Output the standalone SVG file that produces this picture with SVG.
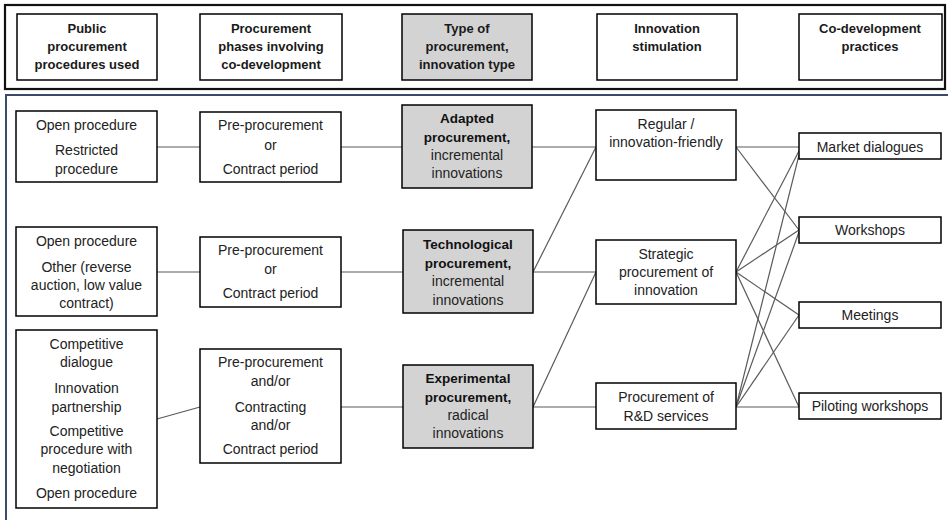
<svg xmlns="http://www.w3.org/2000/svg" width="948" height="520" viewBox="0 0 948 520">
<style>
.box{fill:#fff;stroke:#000;stroke-width:1.5}
.gbox{fill:#d3d3d3;stroke:#000;stroke-width:1.5}
.h{font-family:"Liberation Sans",Arial,sans-serif;font-size:13px;font-weight:bold;fill:#1a1a1a;text-anchor:middle}
.t{font-family:"Liberation Sans",Arial,sans-serif;font-size:14px;fill:#222;text-anchor:middle}
.b{font-family:"Liberation Sans",Arial,sans-serif;font-size:13.5px;font-weight:bold;fill:#111;text-anchor:middle}
.c line{stroke:#5a5a5a;stroke-width:1.2}
</style>
<rect x="0" y="0" width="948" height="520" fill="#fff"/>
<rect x="5" y="5" width="940" height="84" fill="#fff" stroke="#111" stroke-width="2.2"/>
<rect x="6" y="95" width="946" height="440" fill="#fff" stroke="#3b4a6b" stroke-width="2"/>

<g id="hdr1"><rect class="box" x="17" y="14" width="140" height="66"/><text class="h" x="87" y="33">Public</text><text class="h" x="87" y="51">procurement</text><text class="h" x="87" y="69">procedures used</text></g>
<g id="hdr2"><rect class="box" x="200" y="14" width="142" height="66"/><text class="h" x="271" y="33">Procurement</text><text class="h" x="271" y="51">phases involving</text><text class="h" x="271" y="69">co-development</text></g>
<g id="hdr3"><rect class="gbox" x="402" y="14" width="130" height="66"/><text class="h" x="467" y="33">Type of</text><text class="h" x="467" y="51">procurement,</text><text class="h" x="467" y="69">innovation type</text></g>
<g id="hdr4"><rect class="box" x="597" y="14" width="140" height="66"/><text class="h" x="667" y="33">Innovation</text><text class="h" x="667" y="51">stimulation</text></g>
<g id="hdr5"><rect class="box" x="799" y="14" width="143" height="66"/><text class="h" x="870" y="33">Co-development</text><text class="h" x="870" y="51">practices</text></g>

<g class="c" id="connectors">
<line x1="157" y1="147" x2="200" y2="147"/>
<line x1="341" y1="147" x2="402" y2="147"/>
<line x1="532" y1="147" x2="596" y2="147"/>
<line x1="157" y1="272" x2="200" y2="272"/>
<line x1="341" y1="272" x2="403" y2="272"/>
<line x1="533" y1="272" x2="596" y2="272"/>
<line x1="533" y1="272" x2="596" y2="147"/>
<line x1="157" y1="419" x2="200" y2="407"/>
<line x1="341" y1="407" x2="403" y2="407"/>
<line x1="533" y1="407" x2="596" y2="407"/>
<line x1="533" y1="407" x2="596" y2="272"/>
<line x1="736" y1="147" x2="799" y2="147"/>
<line x1="736" y1="147" x2="799" y2="230"/>
<line x1="736" y1="272" x2="799" y2="151"/>
<line x1="736" y1="272" x2="799" y2="230"/>
<line x1="736" y1="272" x2="799" y2="315"/>
<line x1="736" y1="272" x2="799" y2="407"/>
<line x1="736" y1="407" x2="799" y2="155"/>
<line x1="736" y1="407" x2="799" y2="232"/>
<line x1="736" y1="407" x2="799" y2="315"/>
<line x1="736" y1="407" x2="799" y2="407"/>
</g>

<g id="proc1"><rect class="box" x="16" y="111" width="141" height="71"/><text class="t" x="86.5" y="130">Open procedure</text><text class="t" x="86.5" y="155">Restricted</text><text class="t" x="86.5" y="174">procedure</text></g>
<g id="proc2"><rect class="box" x="16" y="227" width="141" height="89"/><text class="t" x="86.5" y="246">Open procedure</text><text class="t" x="86.5" y="272">Other (reverse</text><text class="t" x="86.5" y="290">auction, low value</text><text class="t" x="86.5" y="308">contract)</text></g>
<g id="proc3"><rect class="box" x="16" y="330" width="141" height="178"/><text class="t" x="86.5" y="349">Competitive</text><text class="t" x="86.5" y="367">dialogue</text><text class="t" x="86.5" y="393">Innovation</text><text class="t" x="86.5" y="412">partnership</text><text class="t" x="86.5" y="436">Competitive</text><text class="t" x="86.5" y="454">procedure with</text><text class="t" x="86.5" y="473">negotiation</text><text class="t" x="86.5" y="498">Open procedure</text></g>

<g id="phase1"><rect class="box" x="200" y="112" width="141" height="70"/><text class="t" x="270.5" y="130">Pre-procurement</text><text class="t" x="270.5" y="150">or</text><text class="t" x="270.5" y="174">Contract period</text></g>
<g id="phase2"><rect class="box" x="200" y="237" width="141" height="70"/><text class="t" x="270.5" y="255">Pre-procurement</text><text class="t" x="270.5" y="274">or</text><text class="t" x="270.5" y="298">Contract period</text></g>
<g id="phase3"><rect class="box" x="200" y="349" width="141" height="114"/><text class="t" x="270.5" y="367">Pre-procurement</text><text class="t" x="270.5" y="386">and/or</text><text class="t" x="270.5" y="412">Contracting</text><text class="t" x="270.5" y="430">and/or</text><text class="t" x="270.5" y="454">Contract period</text></g>

<g id="type1"><rect class="gbox" x="402" y="105" width="130" height="83"/><text class="b" x="467" y="123">Adapted</text><text class="b" x="467" y="142">procurement,</text><text class="t" x="467" y="160">incremental</text><text class="t" x="467" y="178">innovations</text></g>
<g id="type2"><rect class="gbox" x="403" y="230" width="130" height="83"/><text class="b" x="468" y="249">Technological</text><text class="b" x="468" y="268">procurement,</text><text class="t" x="468" y="286">incremental</text><text class="t" x="468" y="305">innovations</text></g>
<g id="type3"><rect class="gbox" x="403" y="365" width="130" height="83"/><text class="b" x="468" y="383">Experimental</text><text class="b" x="468" y="402">procurement,</text><text class="t" x="468" y="420">radical</text><text class="t" x="468" y="438">innovations</text></g>

<g id="stim1"><rect class="box" x="596" y="110" width="140" height="70"/><text class="t" x="666" y="129">Regular /</text><text class="t" x="666" y="147">innovation-friendly</text></g>
<g id="stim2"><rect class="box" x="596" y="240" width="140" height="64"/><text class="t" x="666" y="259">Strategic</text><text class="t" x="666" y="277">procurement of</text><text class="t" x="666" y="295">innovation</text></g>
<g id="stim3"><rect class="box" x="596" y="383" width="140" height="46"/><text class="t" x="666" y="402">Procurement of</text><text class="t" x="666" y="421">R&amp;D services</text></g>

<g id="prac1"><rect class="box" x="799" y="133" width="142" height="26"/><text class="t" x="870" y="152">Market dialogues</text></g>
<g id="prac2"><rect class="box" x="799" y="217" width="142" height="26"/><text class="t" x="870" y="235">Workshops</text></g>
<g id="prac3"><rect class="box" x="799" y="302" width="142" height="26"/><text class="t" x="870" y="320">Meetings</text></g>
<g id="prac4"><rect class="box" x="799" y="393" width="142" height="26"/><text class="t" x="870" y="411">Piloting workshops</text></g>
</svg>
